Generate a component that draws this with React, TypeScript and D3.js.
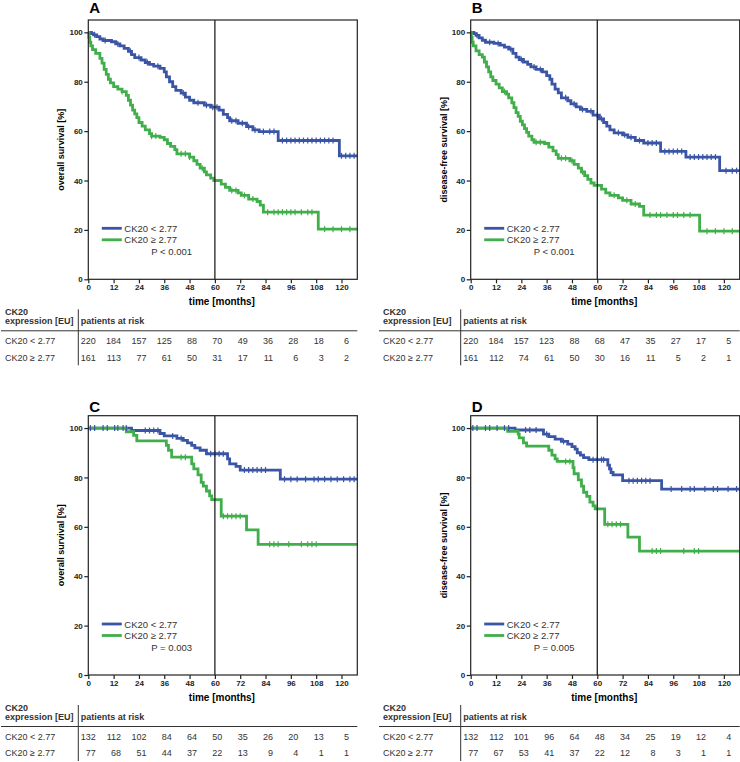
import { useEffect, useRef } from 'react';
import * as d3 from 'd3';

const months = [0, 12, 24, 36, 48, 60, 72, 84, 96, 108, 120];
const yTicks = [0, 20, 40, 60, 80, 100];
const groupLabels = ['CK20 < 2.77', 'CK20 \u2265 2.77'];

// steps: [month, survival % after the drop]
const osAllLow = [[1.5, 99.5], [2.5, 99], [4, 98.3], [5.5, 97.3], [7, 96.7], [11, 96.2], [13, 95.3], [15, 94.5], [17, 93.5], [19, 92.3], [20.5, 91], [22, 89.8], [25, 88.8], [27, 87.8], [29, 87], [31, 86.3], [34, 85.4], [36, 84], [37, 82], [38.5, 80], [40, 78], [41.5, 76.5], [44, 75.4], [46, 73.8], [48, 72.5], [50, 71.5], [55, 70.5], [58, 69.7], [62, 68.5], [64, 66.8], [66, 65.5], [67, 64.2], [71, 63.2], [75, 61.8], [78, 60.5], [81, 59.8], [90, 56.2], [119, 50]];
const osAllHigh = [[0.3, 98], [0.7, 96], [1.2, 94.5], [2, 93], [3.5, 91.5], [5.5, 89.5], [6.5, 87.5], [7.5, 85], [8.5, 83], [9.5, 81], [10.5, 79.5], [12, 78], [14, 77], [16, 76], [18, 74.5], [19, 72.5], [20, 70.5], [21, 68.5], [22, 67], [23, 65.5], [24, 63.5], [25.5, 62], [27, 60.5], [29, 59], [30, 58], [34, 57.5], [36, 56.5], [37.5, 55], [39, 53.8], [41, 52.5], [42, 50.8], [48, 49.5], [50, 48], [51.5, 46.5], [53, 45], [55, 43.5], [56, 42.3], [58, 41], [59.5, 40], [63, 38.5], [65, 37.2], [67, 36], [71, 35], [72.5, 34], [76, 32.5], [80, 31.5], [81.5, 30], [83, 27.2], [109, 20.3]];
const dfsAllLow = [[1.5, 99.5], [2.5, 98.8], [4, 97.8], [5.5, 96.8], [7, 96], [11, 95.5], [14, 94.8], [16, 94], [18, 93.2], [20, 91.5], [21.5, 90], [23, 89], [25, 88], [27, 87], [28.5, 86], [31, 85], [34, 84], [36, 82.5], [37.5, 81], [38.5, 79], [40, 77], [41.5, 75.5], [43, 73.5], [46, 72.3], [47.5, 71], [50, 69.8], [52, 68.8], [55, 68], [58, 66.5], [61, 65], [63, 63.5], [64.5, 62], [66, 60.5], [68, 59.3], [72, 58.5], [74.5, 57.5], [78, 56.2], [82, 55.2], [90, 51.8], [102, 49.5], [118, 44]];
const dfsAllHigh = [[0.3, 98], [0.7, 96], [1.2, 94.5], [2.5, 92.5], [4, 91], [5.5, 90], [6.5, 88], [7.5, 86], [8.5, 84], [9.5, 82], [10.5, 80.5], [12, 79], [13.5, 77.5], [15, 76], [17, 75], [18, 73.5], [19.5, 71.5], [20.5, 69.5], [21.5, 67.5], [22.5, 66], [23.5, 64], [24.5, 62.5], [25.5, 61], [26.5, 59.5], [27.5, 58], [29, 56.5], [30, 55.5], [35, 55], [37, 53.5], [39, 52], [40.5, 50.5], [41.5, 49], [47, 48], [49, 46.5], [51, 45], [52.5, 43.5], [54, 42], [55.5, 40.5], [57, 39], [58.5, 38], [62, 36.5], [64, 35], [66, 34], [70, 33], [72, 32], [76, 30.5], [80, 29.5], [82, 26], [108.5, 19.5]];
const osSubLow = [[20.5, 99], [34, 97.8], [36, 96.8], [42, 95.8], [45, 95], [47, 94], [49, 93], [50.5, 92], [53, 91], [56, 89.6], [66, 87.5], [67, 85.5], [70, 84.5], [72, 83], [91, 79.3]];
const osSubHigh = [[18, 98.5], [21.5, 97], [23, 94.8], [37, 93], [38, 91], [39.5, 88.2], [49, 85.5], [50, 83.5], [52, 81], [53.5, 78], [54.5, 76.5], [56, 74.5], [57.5, 72.5], [58.5, 71], [63, 64.3], [75, 58.8], [80.5, 52.9]];
const dfsSubLow = [[21, 99.2], [34.5, 97.5], [37, 96.5], [40, 95.5], [43, 94.6], [46, 93.5], [48, 92.5], [49.5, 91.5], [50.5, 90], [52, 89], [53.5, 88], [56, 87.2], [65, 85], [65.8, 83.5], [66.5, 82], [67.5, 81], [72, 78.7], [90.5, 75.3]];
const dfsSubHigh = [[17.5, 98.7], [22.5, 97.5], [23, 96], [25, 94], [26.5, 92.7], [37, 91], [38.5, 89], [40, 87.5], [41, 86.5], [48.5, 84], [49, 81.5], [51, 79], [52.5, 76.5], [53.5, 74], [55, 72.3], [56.5, 70], [58, 68.5], [59, 67.3], [63.5, 61], [74.5, 55.8], [80, 50.2]];

// censored observations (months)
const osAllLowCensor = [3, 8, 14, 20, 24, 28, 33, 45, 52, 56, 59, 61, 68, 70, 73, 76, 79, 83, 86, 88, 92, 94, 96, 98, 100, 102, 104, 106, 108, 110, 112, 114, 116, 120, 122, 124, 126];
const osAllHighCensor = [16, 30, 32, 44, 46, 48, 54, 68, 70, 74, 78, 85, 88, 90, 92, 94, 96, 98, 101, 104, 106, 112, 116, 120, 124];
const dfsAllLowCensor = [3, 9, 13, 19, 24, 30, 33, 45, 49, 53, 57, 60, 62, 70, 73, 76, 80, 84, 86, 88, 92, 94, 96, 98, 100, 104, 106, 108, 110, 112, 114, 116, 121, 124, 126];
const dfsAllHighCensor = [16, 31, 33, 43, 45, 48, 53, 68, 74, 78, 85, 88, 90, 93, 96, 98, 101, 104, 112, 116, 120, 124];
const osSubLowCensor = [1, 3, 7, 9, 12.5, 14, 16.5, 18, 27, 29, 31, 33, 40, 44, 58, 60, 62, 64, 74, 76, 78, 80, 82, 84, 93, 96, 99, 103, 107, 109, 112, 115, 118, 121, 124, 126];
const osSubHighCensor = [44, 46, 64, 66, 68, 70, 72, 86, 88, 90, 95, 101, 104, 106, 108];
const dfsSubLowCensor = [1, 3, 7, 9, 12.5, 16, 18, 26, 28, 31, 36, 44, 58, 60, 62, 63, 75, 77, 79, 81, 83, 85, 95, 100, 104, 106, 111, 115, 117, 122, 126];
const dfsSubHighCensor = [45, 47, 65, 67, 69, 71, 86, 88, 90, 101, 106, 108];

// patients at risk
const osAllLowRisk = [220, 184, 157, 125, 88, 70, 49, 36, 28, 18, 6];
const osAllHighRisk = [161, 113, 77, 61, 50, 31, 17, 11, 6, 3, 2];
const dfsAllLowRisk = [220, 184, 157, 123, 88, 68, 47, 35, 27, 17, 5];
const dfsAllHighRisk = [161, 112, 74, 61, 50, 30, 16, 11, 5, 2, 1];
const osSubLowRisk = [132, 112, 102, 84, 64, 50, 35, 26, 20, 13, 5];
const osSubHighRisk = [77, 68, 51, 44, 37, 22, 13, 9, 4, 1, 1];
const dfsSubLowRisk = [132, 112, 101, 96, 64, 48, 34, 25, 19, 12, 4];
const dfsSubHighRisk = [77, 67, 53, 41, 37, 22, 12, 8, 3, 1, 1];

const BLUE = '#3a55a5';
const GREEN = '#40ae4a';
const FONT = 'Arial, "Liberation Sans", sans-serif';

const panels = [
  { letter: 'A', yLabel: 'overall survival [%]', p: 'P < 0.001', low: osAllLow, high: osAllHigh, lowCensor: osAllLowCensor, highCensor: osAllHighCensor, lowRisk: osAllLowRisk, highRisk: osAllHighRisk, left: 88.3, top: 20, letterY: 13, tableLeft: 5 },
  { letter: 'B', yLabel: 'disease-free survival [%]', p: 'P < 0.001', low: dfsAllLow, high: dfsAllHigh, lowCensor: dfsAllLowCensor, highCensor: dfsAllHighCensor, lowRisk: dfsAllLowRisk, highRisk: dfsAllHighRisk, left: 470.7, top: 20, letterY: 13, tableLeft: 383 },
  { letter: 'C', yLabel: 'overall survival [%]', p: 'P = 0.003', low: osSubLow, high: osSubHigh, lowCensor: osSubLowCensor, highCensor: osSubHighCensor, lowRisk: osSubLowRisk, highRisk: osSubHighRisk, left: 88.3, top: 415.7, letterY: 411.5, tableLeft: 5 },
  { letter: 'D', yLabel: 'disease-free survival [%]', p: 'P = 0.005', low: dfsSubLow, high: dfsSubHigh, lowCensor: dfsSubLowCensor, highCensor: dfsSubHighCensor, lowRisk: dfsSubLowRisk, highRisk: dfsSubHighRisk, left: 470.7, top: 415.7, letterY: 411.5, tableLeft: 383 },
];

const W = 269;
const H = 259.3;
const X_MAX = 127.5;

function survivalAt(steps, t) {
  let s = 100;
  steps.forEach(([ts, v]) => {
    if (ts <= t) s = v;
  });
  return s;
}

export default function App() {
  const svgRef = useRef(null);

  useEffect(() => {
    const svg = d3.select(svgRef.current);
    svg.selectAll('*').remove();

    panels.forEach(panel => {
      const g = svg.append('g');
      const x = d3.scaleLinear().domain([0, X_MAX]).range([panel.left, panel.left + W]);
      const y = d3.scaleLinear().domain([0, 105]).range([panel.top + H, panel.top]);
      const y0 = y(0);

      // panel letter
      g.append('text')
        .attr('x', panel.left + 1)
        .attr('y', panel.letterY)
        .style('font-family', FONT)
        .style('font-size', '15px')
        .style('font-weight', 'bold')
        .text(panel.letter);

      // curves
      const line = d3
        .line()
        .x(d => x(d[0]))
        .y(d => y(d[1]))
        .curve(d3.curveStepAfter);

      const series = [
        { steps: panel.low, censor: panel.lowCensor, color: BLUE },
        { steps: panel.high, censor: panel.highCensor, color: GREEN },
      ];

      series.forEach(s => {
        const pts = [[0, 100], ...s.steps, [X_MAX, s.steps[s.steps.length - 1][1]]];
        g.append('path')
          .attr('d', line(pts))
          .attr('fill', 'none')
          .attr('stroke', s.color)
          .attr('stroke-width', 2.8);
      });

      series.forEach(s => {
        g.selectAll(null)
          .data(s.censor)
          .enter()
          .append('line')
          .attr('x1', d => x(d))
          .attr('x2', d => x(d))
          .attr('y1', d => y(survivalAt(s.steps, d)) - 3)
          .attr('y2', d => y(survivalAt(s.steps, d)) + 3)
          .attr('stroke', s.color)
          .attr('stroke-width', 1.2);
      });

      // frame and 60-month marker
      g.append('rect')
        .attr('x', panel.left)
        .attr('y', panel.top)
        .attr('width', W)
        .attr('height', H)
        .attr('fill', 'none')
        .attr('stroke', '#222')
        .attr('stroke-width', 1.2);

      g.append('line')
        .attr('x1', x(60))
        .attr('x2', x(60))
        .attr('y1', panel.top)
        .attr('y2', y0)
        .attr('stroke', '#222')
        .attr('stroke-width', 1.3);

      // axes
      const yAxis = g
        .append('g')
        .attr('transform', `translate(${panel.left},0)`)
        .call(d3.axisLeft(y).tickValues(yTicks).tickSize(4).tickPadding(1.5));
      const xAxis = g
        .append('g')
        .attr('transform', `translate(0,${y0})`)
        .call(d3.axisBottom(x).tickValues(months).tickSize(4).tickPadding(1.5));
      [yAxis, xAxis].forEach(ax => {
        ax.select('.domain').remove();
        ax.selectAll('line').attr('stroke', '#222').attr('stroke-width', 1.2);
        ax.selectAll('text')
          .attr('fill', '#222')
          .style('font-family', FONT)
          .style('font-size', '8px')
          .style('font-weight', 'bold');
      });

      g.append('text')
        .attr('transform', `translate(${panel.left - 24},${panel.top + H / 2}) rotate(-90)`)
        .attr('text-anchor', 'middle')
        .style('font-family', FONT)
        .style('font-size', '9px')
        .style('font-weight', 'bold')
        .text(panel.yLabel);

      g.append('text')
        .attr('x', x(60) + 7)
        .attr('y', y0 + 26)
        .attr('text-anchor', 'middle')
        .style('font-family', FONT)
        .style('font-size', '10px')
        .style('font-weight', 'bold')
        .text('time [months]');

      // legend
      const legend = g.append('g').style('font-family', FONT).style('font-size', '9.5px');
      series.forEach((s, i) => {
        const ly = y0 - 51 + i * 11.5;
        legend.append('line')
          .attr('x1', panel.left + 13.5)
          .attr('x2', panel.left + 33.5)
          .attr('y1', ly)
          .attr('y2', ly)
          .attr('stroke', s.color)
          .attr('stroke-width', 2.8);
        legend.append('text')
          .attr('x', panel.left + 36)
          .attr('y', ly + 3.5)
          .attr('fill', '#333')
          .text(groupLabels[i]);
      });
      legend.append('text')
        .attr('x', panel.left + 63)
        .attr('y', y0 - 24.5)
        .attr('fill', '#333')
        .text(panel.p);

      // risk table
      const table = g.append('g').style('font-family', FONT).style('font-size', '9px').attr('fill', '#333');
      const sepX = panel.left - 10;
      table.append('line')
        .attr('x1', sepX)
        .attr('x2', sepX)
        .attr('y1', y0 + 30)
        .attr('y2', y0 + 86)
        .attr('stroke', '#333')
        .attr('stroke-width', 1);
      table.append('line')
        .attr('x1', panel.tableLeft - 4)
        .attr('x2', panel.left + W)
        .attr('y1', y0 + 51.5)
        .attr('y2', y0 + 51.5)
        .attr('stroke', '#333')
        .attr('stroke-width', 1);
      table.append('text')
        .attr('x', panel.tableLeft)
        .attr('y', y0 + 35.5)
        .style('font-weight', 'bold')
        .text('CK20');
      table.append('text')
        .attr('x', panel.tableLeft)
        .attr('y', y0 + 45)
        .style('font-weight', 'bold')
        .text('expression [EU]');
      table.append('text')
        .attr('x', sepX + 2.5)
        .attr('y', y0 + 45)
        .style('font-weight', 'bold')
        .text('patients at risk');

      [panel.lowRisk, panel.highRisk].forEach((risk, i) => {
        const ry = y0 + 64.5 + i * 16.8;
        table.append('text').attr('x', panel.tableLeft).attr('y', ry).text(groupLabels[i]);
        table.selectAll(null)
          .data(risk)
          .enter()
          .append('text')
          .attr('x', (d, j) => x(months[j]) + 7.5)
          .attr('y', ry)
          .attr('text-anchor', 'end')
          .text(d => d);
      });
    });
  }, []);

  return (
    <svg
      ref={svgRef}
      width={740}
      height={762}
      style={{ position: 'absolute', left: 0, top: 0, background: '#fff' }}
    />
  );
}
